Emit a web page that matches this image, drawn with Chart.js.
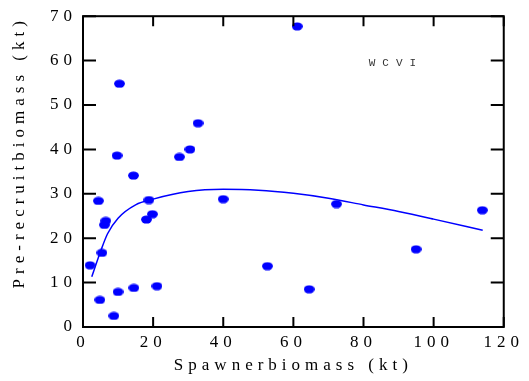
<!DOCTYPE html>
<html>
<head>
<meta charset="utf-8">
<script src="https://cdn.jsdelivr.net/npm/chart.js@4.4.1/dist/chart.umd.min.js"></script>
<style>
  html, body { margin: 0; padding: 0; background: #fff; }
</style>
</head>
<body>
<canvas id="srChart" width="529" height="381"></canvas>
<script>
// Observed spawner / pre-recruit biomass pairs (kt)
const spawnerBiomass = [2.0, 4.4, 4.8, 5.4, 6.1, 6.5, 8.8, 9.7, 10.0, 10.4, 14.4, 14.5,
    18.1, 18.8, 19.8, 21.1, 27.5, 30.5, 32.8, 40.0, 52.6, 61.1, 64.5, 72.3, 95.0, 113.9];
const recruitBiomass = [13.9, 28.4, 6.1, 16.7, 23.0, 23.9, 2.5, 38.6, 7.9, 54.8, 34.1, 8.8,
    24.2, 28.6, 25.4, 9.2, 38.3, 40.0, 45.9, 28.8, 13.7, 67.7, 8.5, 27.7, 17.5, 26.3];

// Fitted stock-recruit curve
const fitSpawner = [2.5, 5, 7, 10, 15, 20, 30, 40, 50, 60, 70, 80, 90, 100, 114];
const fitRecruit = [11.3, 17.0, 21.0, 24.5, 27.5, 28.8, 30.5, 31.0, 30.8, 30.1, 29.0, 27.5, 26.0, 24.3, 21.8];

const xTickValues = [0, 20, 40, 60, 80, 100, 120];
const yTickValues = [0, 10, 20, 30, 40, 50, 60, 70];

const stockName = 'WCVI';
const stockLabelAt = { x: 81.5, y: 59.4 };

const blue = '#0000ff';
const spacing = '5px';

// small flattened dot used as point marker
function makeDot() {
    const c = document.createElement('canvas');
    c.width = 11;
    c.height = 9;
    const g = c.getContext('2d');
    g.fillStyle = blue;
    g.beginPath();
    g.ellipse(5.5, 4.5, 5.4, 4.1, 0, 0, Math.PI * 2);
    g.fill();
    return c;
}

// frame with inward ticks on all four sides, plus the stock label
const framePlugin = {
    id: 'frame',
    beforeLayout(chart) { chart.ctx.letterSpacing = spacing; },
    beforeDraw(chart) { chart.ctx.letterSpacing = spacing; },
    afterDraw(chart) {
        const { ctx, chartArea: a, scales: { x, y } } = chart;
        ctx.save();
        ctx.strokeStyle = '#000';
        ctx.lineWidth = 2;
        ctx.strokeRect(a.left, a.top, a.right - a.left, a.bottom - a.top);
        ctx.beginPath();
        x.ticks.forEach(t => {
            const px = x.getPixelForValue(t.value);
            ctx.moveTo(px, a.bottom);
            ctx.lineTo(px, a.bottom - 10);
            ctx.moveTo(px, a.top);
            ctx.lineTo(px, a.top + 10);
        });
        y.ticks.forEach(t => {
            const py = y.getPixelForValue(t.value);
            ctx.moveTo(a.left, py);
            ctx.lineTo(a.left + 13, py);
            ctx.moveTo(a.right, py);
            ctx.lineTo(a.right - 13, py);
        });
        ctx.stroke();

        ctx.letterSpacing = '7px';
        ctx.font = '11px "Liberation Mono"';
        ctx.fillStyle = '#333';
        ctx.textAlign = 'left';
        ctx.textBaseline = 'middle';
        ctx.fillText(stockName, x.getPixelForValue(stockLabelAt.x), y.getPixelForValue(stockLabelAt.y));
        ctx.restore();
    }
};

const axisFont = { family: '"Liberation Serif"', size: 17 };

const ctx = document.getElementById('srChart').getContext('2d');
new Chart(ctx, {
    type: 'scatter',
    data: {
        datasets: [
            {
                label: 'Observed',
                data: spawnerBiomass.map((s, i) => ({ x: s, y: recruitBiomass[i] })),
                pointStyle: makeDot(),
                pointRadius: 5,
                backgroundColor: blue,
                borderColor: blue
            },
            {
                label: 'Fit',
                data: fitSpawner.map((s, i) => ({ x: s, y: fitRecruit[i] })),
                showLine: true,
                pointRadius: 0,
                borderColor: blue,
                borderWidth: 1.5,
                cubicInterpolationMode: 'monotone'
            }
        ]
    },
    options: {
        responsive: false,
        animation: false,
        devicePixelRatio: 1,
        layout: { padding: { top: 16, right: 21, left: 0, bottom: 0 } },
        plugins: {
            legend: { display: false },
            tooltip: { enabled: false }
        },
        scales: {
            x: {
                type: 'linear',
                min: 0,
                max: 120,
                afterBuildTicks: scale => { scale.ticks = xTickValues.map(v => ({ value: v })); },
                afterFit: scale => { scale.height = 54; },
                grid: { display: false, drawTicks: false },
                border: { display: false },
                ticks: { color: '#000', font: axisFont, padding: 5, maxRotation: 0 },
                title: {
                    display: true,
                    text: 'Spawnerbiomass (kt)',
                    color: '#000',
                    font: axisFont,
                    padding: { top: 5, bottom: 5 }
                }
            },
            y: {
                type: 'linear',
                min: 0,
                max: 70,
                afterBuildTicks: scale => { scale.ticks = yTickValues.map(v => ({ value: v })); },
                afterFit: scale => { scale.width = 83; },
                grid: { display: false, drawTicks: false },
                border: { display: false },
                ticks: { color: '#000', font: axisFont, padding: 6 },
                title: {
                    display: true,
                    text: 'Pre-recruitbiomass (kt)',
                    color: '#000',
                    font: axisFont,
                    align: 'end',
                    padding: { top: 9, bottom: 9 }
                }
            }
        }
    },
    plugins: [framePlugin]
});
</script>
</body>
</html>
